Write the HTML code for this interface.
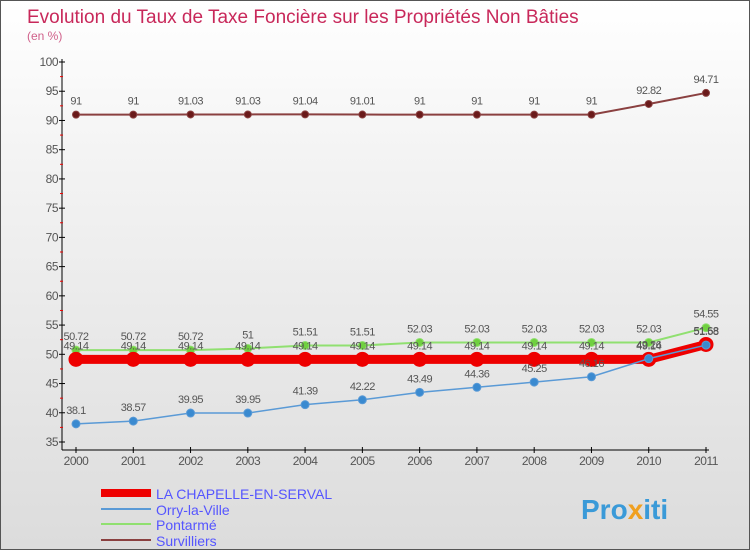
<!DOCTYPE html>
<html><head><meta charset="utf-8"><style>
body{margin:0;width:750px;height:550px;overflow:hidden;font-family:"Liberation Sans",sans-serif}
#wrap{position:relative;width:748px;height:548px;border:1px solid #555;background:linear-gradient(#fff 0%,#f3f3f3 30%,#dcdcdc 100%)}
</style></head><body>
<div id="wrap">
<svg id="svg" width="748" height="548" xmlns="http://www.w3.org/2000/svg">
<text x="26" y="22" font-size="19" fill="#c8285a">Evolution du Taux de Taxe Foncière sur les Propriétés Non Bâties</text>
<text x="26" y="39" font-size="12" fill="#d0608a">(en %)</text>
<g id="axes"></g><g id="series"></g>
<g>
<line x1="100" y1="492" x2="150" y2="492" stroke="#e00" stroke-width="8"/><text x="155" y="498" font-size="14" fill="#55f">LA CHAPELLE-EN-SERVAL</text>
<line x1="100" y1="508" x2="150" y2="508" stroke="#5a9ad6" stroke-width="2"/><text x="155" y="514" font-size="14" fill="#55f">Orry-la-Ville</text>
<line x1="100" y1="523" x2="150" y2="523" stroke="#90e070" stroke-width="2"/><text x="155" y="529" font-size="14" fill="#55f">Pontarmé</text>
<line x1="100" y1="539" x2="150" y2="539" stroke="#8a4040" stroke-width="2"/><text x="155" y="545" font-size="14" fill="#55f">Survilliers</text>
</g>
<text x="580" y="518" font-size="28" font-weight="bold" fill="#3a9ad8">Pro<tspan fill="#f0a020">x</tspan>iti</text>
</svg></div>
<script>
const years=[2000,2001,2002,2003,2004,2005,2006,2007,2008,2009,2010,2011];
const yTicks=[35,40,45,50,55,60,65,70,75,80,85,90,95,100];
const chapelle=[49.14,49.14,49.14,49.14,49.14,49.14,49.14,49.14,49.14,49.14,49.14,51.68];
const orry=[38.1,38.57,39.95,39.95,41.39,42.22,43.49,44.36,45.25,46.16,49.26,51.58];
const pontarme=[50.72,50.72,50.72,51,51.51,51.51,52.03,52.03,52.03,52.03,52.03,54.55];
const survilliers=[91,91,91.03,91.03,91.04,91.01,91,91,91,91,92.82,94.71];
const NS="http://www.w3.org/2000/svg";
const X=i=>75+i*(630/11), Y=v=>441-(v-35)*380/65;
function mk(tag,attrs,parent,txt){const e=document.createElementNS(NS,tag);for(const k in attrs)e.setAttribute(k,attrs[k]);if(txt!==undefined)e.textContent=txt;parent.appendChild(e);return e;}
const ax=document.getElementById('axes'),sg=document.getElementById('series');
let l=mk('line',{x1:61,y1:58,x2:61,y2:449,stroke:'#000'},ax);


l=mk('line',{x1:61,y1:449,x2:708,y2:449,stroke:'#000'},ax);


yTicks.forEach(v=>{mk('line',{x1:58,y1:Y(v),x2:64,y2:Y(v),stroke:'#000'},ax);
 if(v<100)mk('line',{x1:59,y1:Y(v+2.5),x2:62,y2:Y(v+2.5),stroke:'#e00'},ax);
 const t=mk('text',{x:57,y:Y(v)+4,'font-size':12,fill:'#555','text-anchor':'end','letter-spacing':'-0.5'},ax,v);
 
 });
years.forEach((y,i)=>{mk('line',{x1:X(i),y1:446,x2:X(i),y2:452,stroke:'#000'},ax);
 const t=mk('text',{x:X(i),y:464,'font-size':12,fill:'#555','text-anchor':'middle','letter-spacing':'-0.5'},ax,y);
 
 });
function series(d,name,col,w,r,dot,lbl){
 const p=mk('polyline',{points:d.map((v,i)=>X(i)+','+Y(v)).join(' '),fill:'none',stroke:col,'stroke-width':w},sg);
 
 
 d.forEach((v,i)=>{const c=mk('circle',{cx:X(i),cy:Y(v),r:r,fill:dot,stroke:col,'stroke-width':1},sg);
  
  
  if(lbl){const t=mk('text',{x:X(i),y:Y(v)-10,'font-size':11,fill:'#555','text-anchor':'middle','letter-spacing':'-0.5'},sg,v);
  
  }});
}
series(survilliers,'survilliers','#8a4040',2,3.5,'#6a1a1a',true);
series(pontarme,'pontarme','#90e070',2,4,'#70d040',true);
series(chapelle,'la-chapelle','#e00',9,7,'#e00',true);
series(orry,'orry','#5a9ad6',1.5,4,'#3a8ad0',true);
</script>
</body></html>
